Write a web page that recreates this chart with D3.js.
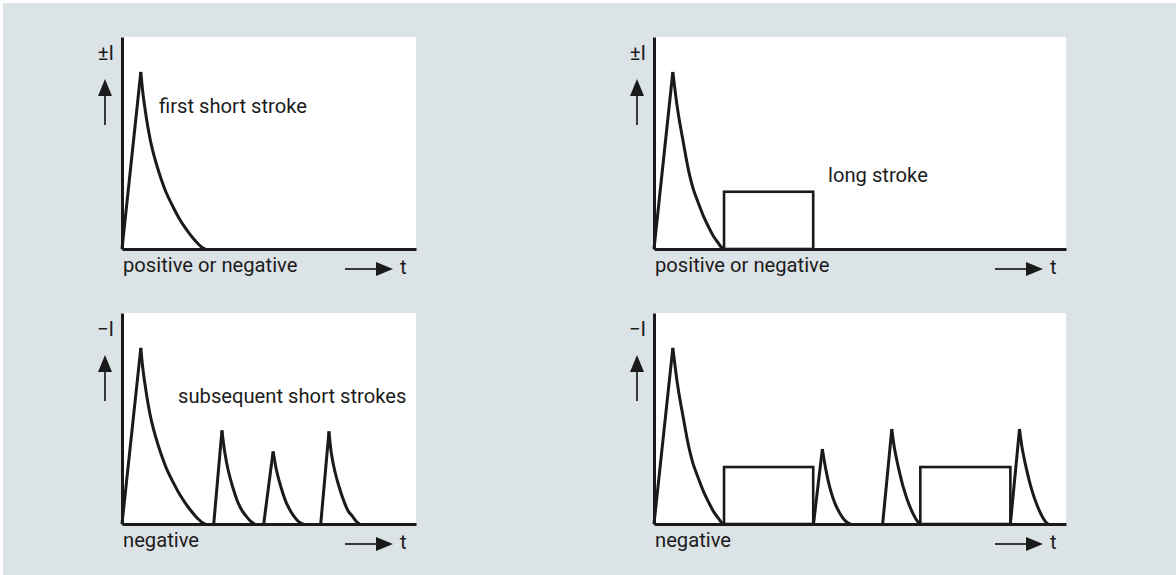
<!DOCTYPE html>
<html><head><meta charset="utf-8">
<script src="https://cdn.jsdelivr.net/npm/d3@7"></script>
<style>
html,body{margin:0;padding:0;background:#fff;}
svg{display:block;}
text{font-family:Roboto,sans-serif;fill:#1c1c1c;}
</style></head>
<body>
<svg id="chart" width="1176" height="575"></svg>
<script>
// ---- data (time units, current units 0..100) ----
const firstStrokeLeft = [[0,0],[6.4,83.5],[7.1,73.6],[7.9,65.5],[8.8,57.5],[10,49],[11.4,41.5],[13.2,33.5],[15.1,26.4],[17.9,18.4],[19.5,14.3],[21.3,10.4],[23,7.1],[24.7,4.2],[26.2,2],[27.4,0.6],[28.3,0]];
const firstStrokeRight = [[0,0],[6.4,83.5],[7.1,75.5],[7.8,68],[8.6,60.8],[10,50],[11.7,37.3],[13.3,28.5],[15.1,21.6],[16.8,15.5],[18.5,10.5],[20.2,6],[21.9,2.7],[22.8,1],[23.6,0]];
const subsequentLeft = [
  [[31.2,0],[34.0,44.4],[35.0,33.6],[36.1,25.6],[37.6,17.8],[39.5,10.0],[41,6],[42.3,3.6],[43.8,1.2],[45.1,0]],
  [[48.2,0],[51.4,34.4],[52.0,29.5],[52.5,25.7],[54.0,17.8],[55.9,10.0],[58.5,3.6],[60.2,1],[61.6,0]],
  [[67.6,0],[70.4,43.9],[71.2,33.6],[72.3,25.6],[73.8,17.8],[75.7,10.0],[77,6],[78.4,3.6],[79.7,1.2],[80.8,0]]
];
const subsequentRight = [
  [[54.2,0],[57.2,35.5],[58.3,26.5],[59.8,17],[61.7,9.1],[64.2,2.8],[65.6,0.8],[66.7,0]],
  [[77.7,0],[80.8,45],[81.7,36],[83.1,26.5],[84.8,17],[86.7,9.1],[88.8,2.8],[89.8,0.8],[90.5,0]],
  [[121.1,0],[124.2,45],[125.1,36],[126.5,26.5],[128.2,17],[130.1,9.1],[132.2,2.8],[133.2,0.8],[133.9,0]]
];
const longStrokesTop = [[23.8,54.1,27]];
const longStrokesBottom = [[23.8,54.1,27],[90.5,121.1,27]];
const yLabels = ["±I","±I","−I","−I"];
const polarityLabels = ["positive or negative","positive or negative","negative","negative"];
const strokeLabels = ["first short stroke","long stroke","subsequent short strokes",""];
const timeDomains = [100,140,100,140];

const svg = d3.select("#chart");
svg.append("rect").attr("x",3).attr("y",3).attr("width",1173).attr("height",572).attr("fill","#dce3e6");

// fit font size so that the reference label width (~148px) is matched
const probe = svg.append("text").style("font-size","100px").text(strokeLabels[0]);
const fs = Math.min(23, Math.max(17, 100*148/probe.node().getComputedTextLength()));
probe.remove();

const panels = [
  {left:122,right:416,top:37,bottom:249,first:firstStrokeLeft,subs:[],rects:[],lab:[37,76]},
  {left:654,right:1066,top:37,bottom:249,first:firstStrokeRight,subs:[],rects:longStrokesTop,lab:[174,145]},
  {left:122,right:416,top:313,bottom:524,first:firstStrokeLeft,subs:subsequentLeft,rects:[],lab:[56,90]},
  {left:654,right:1066,top:313,bottom:524,first:firstStrokeRight,subs:subsequentRight,rects:longStrokesBottom,lab:[0,0]}
];
const ink = "#1a1a1a";

panels.forEach((p,i)=>{
  const x = d3.scaleLinear().domain([0,timeDomains[i]]).range([p.left,p.right]);
  const y = d3.scaleLinear().domain([0,100]).range([p.bottom,p.top]);
  const g = svg.append("g");
  g.append("rect").attr("x",p.left).attr("y",p.top).attr("width",p.right-p.left).attr("height",p.bottom-p.top).attr("fill","#fff");

  g.selectAll("rect.ls").data(p.rects).join("rect").attr("class","ls")
    .attr("x",d=>x(d[0])).attr("y",d=>y(d[2]))
    .attr("width",d=>x(d[1])-x(d[0])).attr("height",d=>y(0)-y(d[2]))
    .attr("fill","none").attr("stroke",ink).attr("stroke-width",2.6);

  const pulses = [p.first].concat(p.subs);
  const rise = d3.line().x(d=>x(d[0])).y(d=>y(d[1]));
  const decay = d3.line().x(d=>x(d[0])).y(d=>y(d[1])).curve(d3.curveCatmullRom.alpha(0.5));
  pulses.forEach(pts=>{
    g.append("path").attr("d",rise(pts.slice(0,2))).attr("fill","none").attr("stroke",ink).attr("stroke-width",3);
    g.append("path").attr("d",decay(pts.slice(1))).attr("fill","none").attr("stroke",ink).attr("stroke-width",3);
  });

  const ax = g.append("g").attr("transform",`translate(0,${p.bottom})`).call(d3.axisBottom(x).tickValues([]).tickSizeOuter(0));
  const ay = g.append("g").attr("transform",`translate(${p.left},0)`).call(d3.axisLeft(y).tickValues([]).tickSizeOuter(0));
  [ax,ay].forEach(a=>a.select(".domain").attr("stroke",ink).attr("stroke-width",3));

  const txt = (xx,yy,s,anchor)=>g.append("text").attr("x",xx).attr("y",yy).attr("text-anchor",anchor||"start").style("font-size",fs+"px").text(s);

  txt(p.left-8,p.top+23,yLabels[i],"end");
  const ux = p.left-17;
  g.append("line").attr("x1",ux).attr("x2",ux).attr("y1",p.top+58).attr("y2",p.top+88).attr("stroke",ink).attr("stroke-width",1.7);
  g.append("path").attr("d",`M${ux},${p.top+42}L${ux-7},${p.top+59}L${ux+7},${p.top+59}Z`).attr("fill",ink);

  txt(p.left+1,p.bottom+23,polarityLabels[i]);
  const ry = p.bottom+20;
  g.append("line").attr("x1",p.right-71).attr("x2",p.right-39).attr("y1",ry).attr("y2",ry).attr("stroke",ink).attr("stroke-width",1.7);
  g.append("path").attr("d",`M${p.right-23},${ry}L${p.right-40},${ry-7}L${p.right-40},${ry+7}Z`).attr("fill",ink);
  txt(p.right-16,p.bottom+25,"t");

  if(strokeLabels[i]) txt(p.left+p.lab[0],p.top+p.lab[1],strokeLabels[i]);
});
</script>
</body></html>
